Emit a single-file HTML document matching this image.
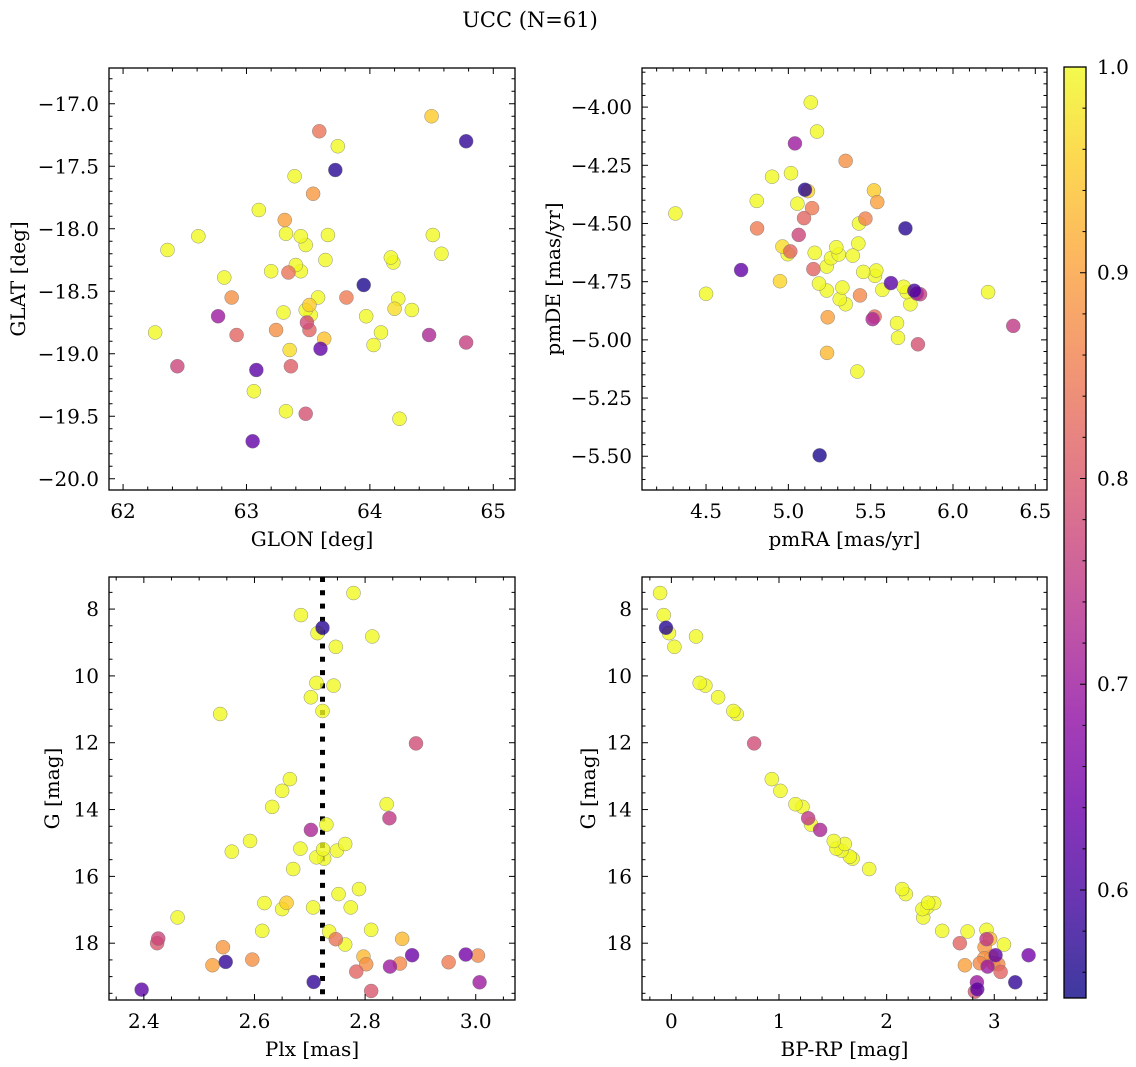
<!DOCTYPE html>
<html><head><meta charset="utf-8"><title>UCC (N=61)</title>
<style>
html,body{margin:0;padding:0;background:#fff;}
svg{display:block;font-family:"DejaVu Serif","Liberation Serif",serif;}
</style></head>
<body>
<svg id="fig" width="1136" height="1067" viewBox="0 0 1136 1067" xmlns="http://www.w3.org/2000/svg">
<text x="530" y="27" font-size="21" text-anchor="middle">UCC (N=61)</text>
</svg>
<script>
// Panel 1: GLON vs GLAT
const p1Glon=[64.50,64.78,63.59,63.74,63.72,63.39,63.54,63.10,63.31,63.32,63.44,63.48,63.66,64.51,64.58,62.61,62.36,64.17,64.19,63.64,63.40,63.20,63.34,63.44,62.82,63.95,62.88,63.58,63.81,64.23,64.20,64.34,63.51,63.48,63.52,63.30,62.77,63.97,63.49,63.51,63.24,62.92,62.26,64.09,64.48,64.78,64.03,63.63,63.60,63.35,62.44,63.08,63.36,63.06,63.32,63.48,64.24,63.05];
const p1Glat=[-17.10,-17.30,-17.22,-17.34,-17.53,-17.58,-17.72,-17.85,-17.93,-18.04,-18.06,-18.13,-18.05,-18.05,-18.20,-18.06,-18.17,-18.23,-18.27,-18.25,-18.29,-18.34,-18.35,-18.34,-18.39,-18.45,-18.55,-18.55,-18.55,-18.56,-18.64,-18.65,-18.61,-18.65,-18.69,-18.67,-18.70,-18.70,-18.75,-18.81,-18.81,-18.85,-18.83,-18.83,-18.85,-18.91,-18.93,-18.88,-18.96,-18.97,-19.10,-19.13,-19.10,-19.30,-19.46,-19.48,-19.52,-19.70];
const p1Prob=[0.95,0.58,0.84,1,0.57,1,0.89,1,0.90,1,1,1,1,1,1,1,1,1,1,1,1,1,0.84,1,1,0.56,0.88,1,0.85,1,0.97,1,0.95,1,1,1,0.70,1,0.78,0.82,0.88,0.82,1,1,0.72,0.76,1,0.94,0.63,0.97,0.77,0.62,0.81,1,1,0.79,1,0.63];
// Panel 2: pmRA vs pmDE
const p2Pmra=[5.136,5.174,5.040,5.348,4.901,5.016,5.101,5.119,5.520,5.540,4.808,5.055,5.144,4.314,5.095,5.468,5.429,4.810,5.711,5.063,4.964,5.012,4.996,5.291,5.306,5.160,5.259,5.391,5.425,5.233,5.152,4.713,5.455,5.534,5.526,4.949,5.186,5.623,5.328,5.233,5.571,5.700,5.719,5.765,5.800,5.781,4.500,6.213,5.435,5.312,5.348,5.741,5.239,5.512,5.524,5.660,5.666,6.366,5.787,5.235,5.419,5.190];
const p2Pmde=[-3.98,-4.105,-4.156,-4.231,-4.299,-4.284,-4.355,-4.361,-4.358,-4.408,-4.403,-4.415,-4.434,-4.457,-4.477,-4.479,-4.500,-4.521,-4.521,-4.549,-4.599,-4.620,-4.632,-4.602,-4.633,-4.626,-4.649,-4.638,-4.586,-4.685,-4.696,-4.700,-4.708,-4.702,-4.725,-4.748,-4.758,-4.756,-4.775,-4.788,-4.785,-4.772,-4.795,-4.789,-4.804,-4.801,-4.802,-4.795,-4.809,-4.825,-4.847,-4.847,-4.903,-4.911,-4.900,-4.928,-4.991,-4.940,-5.019,-5.056,-5.136,-5.496];
const p2Prob=[1,1,0.70,0.88,1,1,0.57,0.96,0.95,0.90,1,1,0.85,1,0.82,0.86,1,0.85,0.57,0.77,0.97,0.82,1,1,1,1,1,1,1,1,0.82,0.63,1,1,1,0.96,1,0.62,1,1,1,1,1,0.60,0.76,0.72,1,1,0.87,1,1,1,0.90,0.72,0.83,1,1,0.75,0.79,0.93,1,0.56];
// Panel 3: Plx vs G
const p3Plx=[2.779,2.684,2.723,2.714,2.813,2.747,2.712,2.743,2.702,2.723,2.538,2.892,2.664,2.650,2.632,2.839,2.844,2.730,2.702,2.592,2.764,2.683,2.724,2.749,2.559,2.712,2.726,2.670,2.789,2.752,2.618,2.658,2.650,2.706,2.774,2.461,2.614,2.735,2.811,2.747,2.867,2.764,2.426,2.424,2.543,2.885,2.982,3.004,2.797,2.548,2.596,2.524,2.802,2.863,2.951,2.845,2.784,2.707,3.007,2.396,2.811];
const p3G=[7.52,8.18,8.56,8.72,8.82,9.13,10.21,10.29,10.64,11.05,11.14,12.02,13.09,13.44,13.92,13.84,14.26,14.45,14.61,14.94,15.03,15.17,15.19,15.23,15.26,15.43,15.47,15.78,16.38,16.53,16.80,16.79,16.98,16.93,16.93,17.23,17.63,17.65,17.60,17.88,17.87,18.04,17.86,18.00,18.12,18.36,18.34,18.37,18.40,18.56,18.49,18.66,18.63,18.61,18.57,18.70,18.85,19.16,19.17,19.39,19.43];
const p3Prob=[1,1,0.57,1,1,1,1,1,1,1,1,0.78,1,1,1,1,0.75,1,0.72,1,1,1,1,1,1,1,1,1,1,1,1,0.95,1,1,1,1,1,1,1,0.84,0.93,1,0.77,0.80,0.89,0.64,0.65,0.87,0.93,0.58,0.88,0.90,0.88,0.87,0.85,0.70,0.82,0.58,0.70,0.62,0.80];
const plxMedian=[2.723];
// Panel 4: BP-RP vs G
const p4Bprp=[-0.105,-0.071,-0.050,-0.022,0.229,0.028,0.263,0.316,0.434,0.576,0.607,0.769,0.933,1.013,1.153,1.218,1.271,1.298,1.382,1.509,1.611,1.534,1.580,1.658,1.683,1.838,2.144,2.178,2.386,2.442,2.333,2.377,2.340,2.516,2.752,2.928,2.680,3.090,2.962,2.928,2.910,3.012,3.319,2.972,2.907,2.727,2.866,3.037,2.938,2.990,3.059,3.195,2.839,2.842,2.820];
const p4G=[7.52,8.18,8.56,8.72,8.82,9.13,10.21,10.29,10.64,11.05,11.14,12.02,13.09,13.44,13.84,13.92,14.26,14.45,14.61,14.94,15.03,15.17,15.23,15.41,15.47,15.78,16.38,16.53,16.79,16.80,16.98,16.93,17.23,17.63,17.65,17.60,18.00,18.04,17.87,17.88,18.12,18.36,18.36,18.40,18.45,18.66,18.60,18.63,18.70,18.60,18.86,19.17,19.17,19.38,19.45];
const p4Prob=[1,1,0.57,1,1,1,1,1,1,1,1,0.78,1,1,1,1,0.75,1,0.72,1,1,1,1,1,1,1,1,1,1,1,1,1,1,1,1,1,0.82,1,0.93,0.75,0.89,0.63,0.65,0.93,0.88,0.90,0.87,0.87,0.70,0.88,0.82,0.58,0.70,0.62,0.80];
// Colorbar ticks
const cbTicks=[0.6,0.7,0.8,0.9,1.0];
const cbMin=0.5475, cbMax=1.0;

const NS="http://www.w3.org/2000/svg";
const svg=document.getElementById('fig');
const FS=20;
function mk(tag,attrs,parent){const e=document.createElementNS(NS,tag);for(const k in attrs)e.setAttribute(k,attrs[k]);(parent||svg).appendChild(e);return e;}
const stops=["#0d0887","#41049d","#6a00a8","#8f0da4","#b12a90","#cc4778","#e16462","#f2844b","#fca636","#fcce25","#f0f921"];
function hex(h){return [parseInt(h.substr(1,2),16),parseInt(h.substr(3,2),16),parseInt(h.substr(5,2),16)];}
function plasma(t){t=Math.max(0,Math.min(1,t));const f=t*10;const i=Math.min(9,Math.floor(f));const u=f-i;const a=hex(stops[i]),b=hex(stops[i+1]);
 return "rgb("+a.map((v,k)=>Math.round(v+(b[k]-v)*u)).join(",")+")";}
function cmap(v){return plasma((v-cbMin)/(cbMax-cbMin));}
function fmt(v,d){return (v<0?"\u2212":"")+Math.abs(v).toFixed(d);}

function panel(o){
 const g=mk('g',{});
 
 
 const sx=v=>o.x0+(v-o.xmin)/(o.xmax-o.xmin)*(o.x1-o.x0);
 const sy=v=>o.invert? o.y0+(v-o.ymin)/(o.ymax-o.ymin)*(o.y1-o.y0) : o.y1-(v-o.ymin)/(o.ymax-o.ymin)*(o.y1-o.y0);
 const clip=mk('clipPath',{id:'clip-'+o.name},g);
 mk('rect',{x:o.x0,y:o.y0,width:o.x1-o.x0,height:o.y1-o.y0},clip);
 const pts=mk('g',{'clip-path':'url(#clip-'+o.name+')'},g);
 if(o.vline){o.vline.forEach(v=>{const l=mk('line',{x1:sx(v),x2:sx(v),y1:o.y0,y2:o.y1,stroke:'#000','stroke-width':5,'stroke-dasharray':'5 8.3'},pts);
  
  });}
 const idx=o.xs.map((_,i)=>i).sort((a,b)=>o.c[a]-o.c[b]);
 idx.reverse();
 idx.forEach(i=>{const c=mk('circle',{cx:sx(o.xs[i]),cy:sy(o.ys[i]),r:7,fill:cmap(o.c[i]),'fill-opacity':0.8,stroke:'#777','stroke-width':0.5,'stroke-opacity':0.8},pts);
  
  });
 const tk=mk('g',{stroke:'#000','stroke-width':1},g);
 const eps=1e-9;
 for(let v=Math.ceil(o.xmin/o.xminor-eps)*o.xminor;v<=o.xmax+eps;v+=o.xminor){
  const isMaj=Math.abs(v/o.xmajor-Math.round(v/o.xmajor))<1e-6;const L=isMaj?6:3.5;const X=sx(v);
  mk('line',{x1:X,x2:X,y1:o.y1,y2:o.y1-L},tk);mk('line',{x1:X,x2:X,y1:o.y0,y2:o.y0+L},tk);
  if(isMaj){const t=mk('text',{x:X,y:o.y1+28,'font-size':FS,'text-anchor':'middle',stroke:'none'},g);t.textContent=fmt(Math.round(v/o.xmajor)*o.xmajor,o.xd);
   
   }
 }
 for(let v=Math.ceil(o.ymin/o.yminor-eps)*o.yminor;v<=o.ymax+eps;v+=o.yminor){
  const isMaj=Math.abs(v/o.ymajor-Math.round(v/o.ymajor))<1e-6;const L=isMaj?6:3.5;const Y=sy(v);
  mk('line',{x1:o.x0,x2:o.x0+L,y1:Y,y2:Y},tk);mk('line',{x1:o.x1,x2:o.x1-L,y1:Y,y2:Y},tk);
  if(isMaj){const t=mk('text',{x:o.x0-10,y:Y+7,'font-size':FS,'text-anchor':'end',stroke:'none'},g);t.textContent=fmt(Math.round(v/o.ymajor)*o.ymajor,o.yd);
   
   }
 }
 const fr=mk('rect',{x:o.x0,y:o.y0,width:o.x1-o.x0,height:o.y1-o.y0,fill:'none',stroke:'#000','stroke-width':1.3},g);
 
 
 const xl=mk('text',{x:(o.x0+o.x1)/2,y:o.y1+56,'font-size':FS,'text-anchor':'middle'},g);xl.textContent=o.xlabel;
 
 
 const yx=o.ylx, yy=(o.y0+o.y1)/2;
 const yl=mk('text',{x:yx,y:yy,'font-size':FS,'text-anchor':'middle',transform:'rotate(-90 '+yx+' '+yy+')'},g);yl.textContent=o.ylabel;
 
 
}

panel({name:'glon-glat-panel',x0:109,x1:515,y0:68,y1:490,xmin:61.886,xmax:65.176,ymin:-20.09,ymax:-16.714,xmajor:1,xminor:0.2,ymajor:0.5,yminor:0.1,xd:0,yd:1,xs:p1Glon,ys:p1Glat,c:p1Prob,xlabel:'GLON [deg]',ylabel:'GLAT [deg]',ylx:25});
panel({name:'pm-panel',x0:642,x1:1047,y0:68,y1:490,xmin:4.111,xmax:6.571,ymin:-5.645,ymax:-3.832,xmajor:0.5,xminor:0.1,ymajor:0.25,yminor:0.05,xd:1,yd:2,xs:p2Pmra,ys:p2Pmde,c:p2Prob,xlabel:'pmRA [mas/yr]',ylabel:'pmDE [mas/yr]',ylx:560});
panel({name:'plx-g-panel',x0:109,x1:515,y0:577,y1:1000,xmin:2.337,xmax:3.071,ymin:7.04,ymax:19.70,invert:true,xmajor:0.2,xminor:0.05,ymajor:2,yminor:0.5,xd:1,yd:0,xs:p3Plx,ys:p3G,c:p3Prob,xlabel:'Plx [mas]',ylabel:'G [mag]',ylx:59,vline:plxMedian});
panel({name:'cmd-panel',x0:642,x1:1047,y0:577,y1:1000,xmin:-0.273,xmax:3.49,ymin:7.04,ymax:19.70,invert:true,xmajor:1,xminor:0.2,ymajor:2,yminor:0.5,xd:0,yd:0,xs:p4Bprp,ys:p4G,c:p4Prob,xlabel:'BP-RP [mag]',ylabel:'G [mag]',ylx:595});

(function(){
 const x0=1064,x1=1086,y0=67,y1=998;
 const g=mk('g',{});
 
 
 const defs=mk('defs',{},g);
 const lg=mk('linearGradient',{id:'cbg',x1:0,y1:1,x2:0,y2:0},defs);
 for(let i=0;i<=20;i++){mk('stop',{offset:i/20,'stop-color':plasma(i/20),'stop-opacity':0.8},lg);}
 mk('rect',{x:x0,y:y0,width:x1-x0,height:y1-y0,fill:'url(#cbg)'},g);
 const sy=v=>y1-(v-cbMin)/(cbMax-cbMin)*(y1-y0);
 for(let k=Math.ceil(cbMin/0.02);k*0.02<=cbMax+1e-9;k++){const v=k*0.02;const Y=sy(v);const maj=(k%5===0);
  mk('line',{x1:x1,x2:x1-(maj?6:3.5),y1:Y,y2:Y,stroke:'#000','stroke-width':1},g);}
 cbTicks.forEach(v=>{const t=mk('text',{x:x1+11,y:sy(v)+7,'font-size':FS},g);t.textContent=v.toFixed(1);
  
  });
 mk('rect',{x:x0,y:y0,width:x1-x0,height:y1-y0,fill:'none',stroke:'#000','stroke-width':1.3},g);
})();
</script>
</body></html>
